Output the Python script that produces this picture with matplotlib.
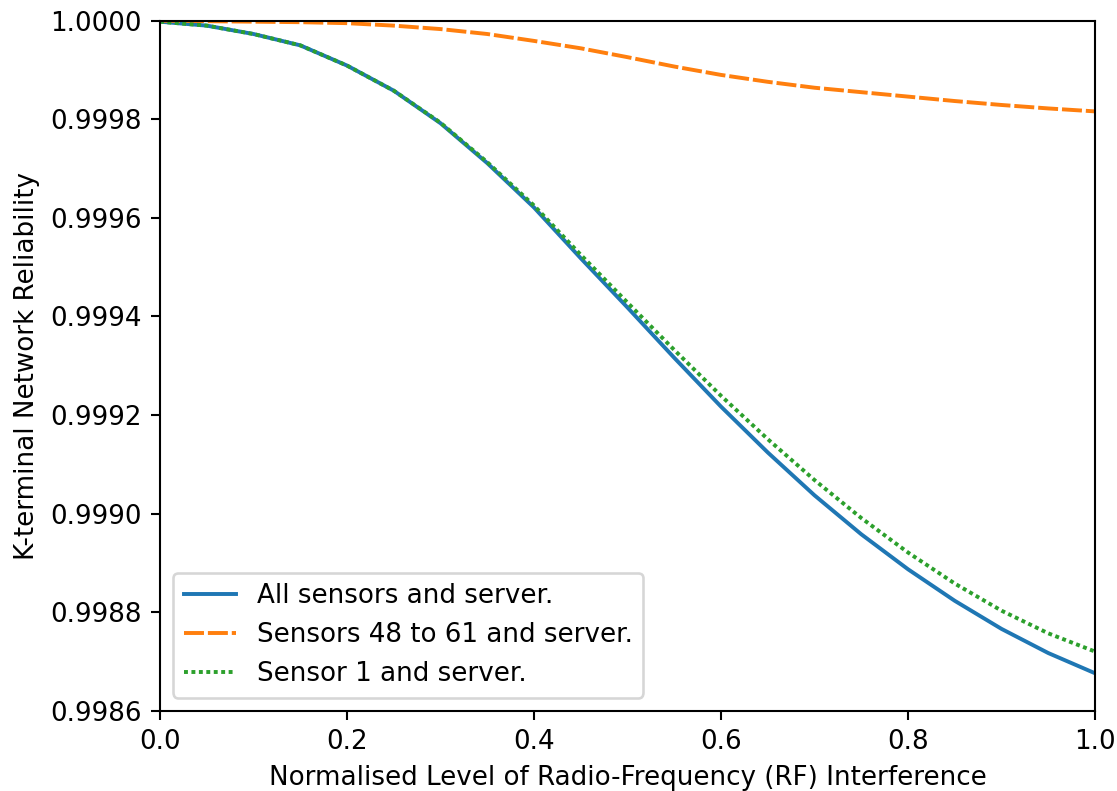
#!/usr/bin/env python
"""K-terminal network reliability against normalised RF interference."""
from __future__ import annotations

import matplotlib

matplotlib.use("Agg")
from matplotlib import pyplot as plt
from matplotlib.ticker import FormatStrFormatter, MultipleLocator

# interference level, sampled every 0.05
interference = [
    0.00, 0.05, 0.10, 0.15, 0.20, 0.25, 0.30, 0.35, 0.40, 0.45, 0.50,
    0.55, 0.60, 0.65, 0.70, 0.75, 0.80, 0.85, 0.90, 0.95, 1.00,
]

all_sensors = [
    0.999998, 0.999990, 0.999973, 0.999950, 0.999909, 0.999858, 0.999792,
    0.999711, 0.999621, 0.999518, 0.999418, 0.999316, 0.999217, 0.999124,
    0.999037, 0.998958, 0.998887, 0.998823, 0.998766, 0.998717, 0.998676,
]

sensors_48_61 = [
    1.000000, 0.999999, 0.999998, 0.999997, 0.999995, 0.999990, 0.999983,
    0.999973, 0.999959, 0.999944, 0.999926, 0.999907, 0.999890, 0.999876,
    0.999864, 0.999855, 0.999846, 0.999837, 0.999829, 0.999822, 0.999816,
]

sensor_1 = [
    0.999998, 0.999990, 0.999973, 0.999950, 0.999909, 0.999858, 0.999793,
    0.999713, 0.999625, 0.999525, 0.999428, 0.999332, 0.999239, 0.999151,
    0.999068, 0.998991, 0.998921, 0.998858, 0.998803, 0.998757, 0.998720,
]

labels = [
    "All sensors and server.",
    "Sensors 48 to 61 and server.",
    "Sensor 1 and server.",
]


def main() -> None:
    dpi = 188
    fig = plt.figure(figsize=(1117 / dpi, 791 / dpi), dpi=dpi)
    ax = fig.add_axes([160 / 1117, 80.3 / 791, 935 / 1117, 690 / 791])

    ax.plot(interference, all_sensors, color="#1f77b4", linewidth=1.5,
            label=labels[0])
    ax.plot(interference, sensors_48_61, color="#ff7f0e", linewidth=1.5,
            linestyle=(0, (5.1, 1.0)), label=labels[1])
    ax.plot(interference, sensor_1, color="#2ca02c", linewidth=1.5,
            linestyle=(0, (1, 0.9)), label=labels[2])

    ax.set_xlim(0.0, 1.0)
    ax.set_ylim(0.9986, 1.0)
    ax.xaxis.set_major_locator(MultipleLocator(0.2))
    ax.yaxis.set_major_locator(MultipleLocator(0.0002))
    ax.xaxis.set_major_formatter(FormatStrFormatter("%.1f"))
    ax.yaxis.set_major_formatter(FormatStrFormatter("%.4f"))
    ax.tick_params(labelsize=10)

    ax.set_xlabel("Normalised Level of Radio-Frequency (RF) Interference",
                  fontsize=10)
    ax.set_ylabel("K-terminal Network Reliability", fontsize=10)
    ax.legend(loc="lower left", fontsize=10)

    fig.savefig("out.png", dpi=dpi)
    plt.close(fig)


if __name__ == "__main__":
    main()
